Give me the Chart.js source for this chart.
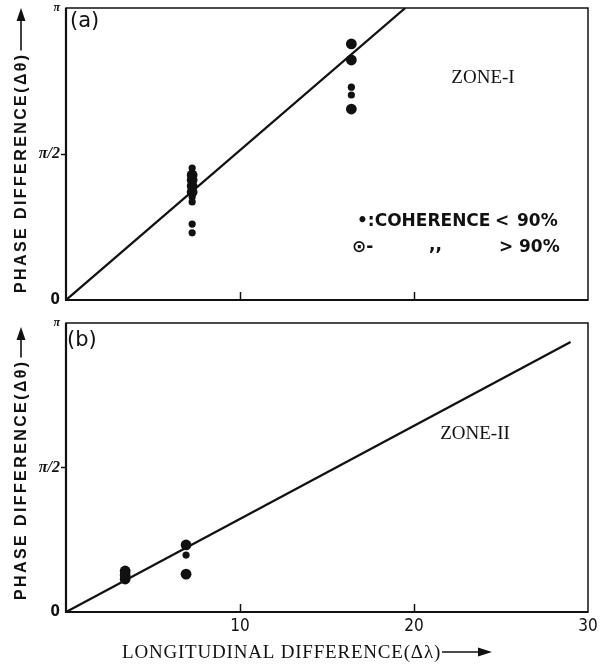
<!DOCTYPE html>
<html>
<head>
<meta charset="utf-8">
<script src="https://cdn.jsdelivr.net/npm/chart.js@4.4.1/dist/chart.umd.min.js"></script>
<style>
  html, body { margin: 0; padding: 0; background: #fff; }
  #wrap { position: relative; width: 601px; height: 667px; overflow: hidden; }
  canvas { position: absolute; left: 0; }
  #chartA { top: 0; }
  #chartB { top: 312px; }
</style>
</head>
<body>
<div id="wrap">
  <canvas id="chartA" width="601" height="312" style="width:601px;height:312px"></canvas>
  <canvas id="chartB" width="601" height="355" style="width:601px;height:355px"></canvas>
</div>
<script>
// x = longitudinal difference (deg), y = phase difference in units of pi
// Zone I
const zoneI_high_x = [7.25, 7.25, 7.25, 7.25, 16.4, 16.4, 16.4];
const zoneI_high_y = [0.428, 0.411, 0.390, 0.370, 0.877, 0.822, 0.654];
const zoneI_low_x = [7.25, 7.25, 7.25, 7.25, 7.25, 16.4, 16.4];
const zoneI_low_y = [0.452, 0.353, 0.336, 0.260, 0.230, 0.729, 0.702];
const zoneI_fit_x = [0, 19.5];
const zoneI_fit_y = [0, 1];

// Zone II
const zoneII_high_x = [3.4, 3.4, 3.4, 6.9, 6.9];
const zoneII_high_y = [0.142, 0.128, 0.114, 0.232, 0.131];
const zoneII_low_x = [6.9];
const zoneII_low_y = [0.197];
const zoneII_fit_x = [0, 29];
const zoneII_fit_y = [0, 0.934];

const xTickValues = [10, 20, 30];
const yTickLabels = ['0', 'π/2', 'π'];   // at 0, 0.5, 1 (units of pi)

const yTitle = 'PHASE DIFFERENCE(Δθ)';
const xTitle = 'LONGITUDINAL DIFFERENCE(Δλ)';

const INK = '#111';

function pts(xs, ys) {
    return xs.map((x, i) => ({ x: x, y: ys[i] }));
}

function drawFrame(chart) {
    const ctx = chart.ctx;
    const a = chart.chartArea;
    ctx.save();
    ctx.strokeStyle = INK;
    ctx.lineWidth = 1.5;
    ctx.strokeRect(a.left, a.top, a.right - a.left, a.bottom - a.top);
    ctx.lineWidth = 2.2;
    ctx.beginPath();
    ctx.moveTo(a.left, a.top);
    ctx.lineTo(a.left, a.bottom);
    ctx.lineTo(a.right, a.bottom);
    ctx.stroke();
    ctx.restore();
}

// rotated axis title with the long arrow after it
function drawYTitle(ctx, cx, yStart, yTip) {
    ctx.save();
    ctx.translate(cx, yStart);
    ctx.rotate(-Math.PI / 2);
    ctx.font = 'bold 16px "Liberation Sans", Arial, sans-serif';
    ctx.letterSpacing = '2.4px';
    ctx.textAlign = 'left';
    ctx.textBaseline = 'middle';
    ctx.fillStyle = INK;
    ctx.fillText(yTitle, 0, 1);
    const w = ctx.measureText(yTitle).width;
    const end = yStart - yTip;
    ctx.strokeStyle = INK;
    ctx.lineWidth = 1.6;
    ctx.beginPath();
    ctx.moveTo(w + 2, 0);
    ctx.lineTo(end - 10, 0);
    ctx.stroke();
    ctx.beginPath();
    ctx.moveTo(end, 0);
    ctx.lineTo(end - 13, -4.5);
    ctx.lineTo(end - 13, 4.5);
    ctx.closePath();
    ctx.fill();
    ctx.restore();
}

function drawText(ctx, str, x, y, font, align) {
    ctx.save();
    ctx.font = font;
    ctx.fillStyle = INK;
    ctx.textAlign = align || 'left';
    ctx.textBaseline = 'middle';
    ctx.fillText(str, x, y);
    ctx.restore();
}

const handFont = 'bold 17px "DejaVu Sans", sans-serif';
const serifFont = '19px "Liberation Serif", "DejaVu Serif", serif';

const panelA = {
    id: 'panelA',
    afterDraw(chart) {
        const ctx = chart.ctx;
        drawFrame(chart);
        drawYTitle(ctx, 21, 293, 8);
        drawText(ctx, '(a)', 70, 22, '21px "DejaVu Sans", sans-serif');
        drawText(ctx, 'ZONE-I', 483, 78, serifFont, 'center');
        // hand-written legend
        drawText(ctx, '•:COHERENCE', 357, 222, handFont);
        drawText(ctx, '<', 495, 222, handFont);
        drawText(ctx, '90%', 517, 222, handFont);
        drawText(ctx, '⊙-', 352, 248, handFont);
        drawText(ctx, ',,', 429, 246, handFont);
        drawText(ctx, '>', 499, 248, handFont);
        drawText(ctx, '90%', 519, 248, handFont);
    }
};

const panelB = {
    id: 'panelB',
    afterDraw(chart) {
        const ctx = chart.ctx;
        drawFrame(chart);
        drawYTitle(ctx, 21, 288, 15);
        drawText(ctx, '(b)', 67, 29, '21px "DejaVu Sans", sans-serif');
        drawText(ctx, 'ZONE-II', 475, 122, serifFont, 'center');

        ctx.save();
        ctx.font = '19px "Liberation Serif", "DejaVu Serif", serif';
        ctx.letterSpacing = '0.8px';
        ctx.fillStyle = INK;
        ctx.textBaseline = 'middle';
        ctx.fillText(xTitle, 122, 341);
        const w = ctx.measureText(xTitle).width;
        ctx.strokeStyle = INK;
        ctx.lineWidth = 1.6;
        ctx.beginPath();
        ctx.moveTo(122 + w + 1, 340);
        ctx.lineTo(480, 340);
        ctx.stroke();
        ctx.beginPath();
        ctx.moveTo(492, 340);
        ctx.lineTo(478, 335.5);
        ctx.lineTo(478, 344.5);
        ctx.closePath();
        ctx.fill();
        ctx.restore();
    }
};

function yTickFont(c) {
    const v = c.tick ? c.tick.value : 0;
    if (v === 1) return { family: '"Liberation Serif", serif', size: 12, style: 'italic', weight: 'bold' };
    if (v === 0.5) return { family: '"Liberation Serif", serif', size: 16, style: 'italic', weight: 'bold' };
    return { family: '"Liberation Sans Narrow", "DejaVu Sans Condensed", sans-serif', size: 15, weight: 'bold' };
}

function buildChart(canvasId, high, low, fit, showXLabels, pad, xHeight, plugin) {
    return new Chart(document.getElementById(canvasId), {
        type: 'scatter',
        data: {
            datasets: [
                {
                    data: fit,
                    showLine: true,
                    borderColor: INK,
                    borderWidth: 2.3,
                    pointRadius: 0
                },
                {
                    data: high,
                    backgroundColor: INK,
                    borderColor: INK,
                    pointRadius: 5.4,
                    borderWidth: 0
                },
                {
                    data: low,
                    backgroundColor: INK,
                    borderColor: INK,
                    pointRadius: 3.6,
                    borderWidth: 0
                }
            ]
        },
        options: {
            responsive: false,
            animation: false,
            events: [],
            layout: { padding: pad },
            plugins: {
                legend: { display: false },
                tooltip: { enabled: false }
            },
            scales: {
                x: {
                    type: 'linear',
                    min: 0,
                    max: 30,
                    afterBuildTicks: s => { s.ticks = [0].concat(xTickValues).map(v => ({ value: v })); },
                    ticks: {
                        display: showXLabels,
                        padding: 12,
                        color: INK,
                        font: { family: '"Liberation Sans Narrow", "DejaVu Sans Condensed", sans-serif', size: 17 },
                        callback: v => (v === 0 ? '' : String(v))
                    },
                    grid: {
                        drawOnChartArea: false,
                        drawTicks: true,
                        tickLength: -8,
                        tickWidth: 1.5,
                        tickColor: c => (c.tick && (c.tick.value === 10 || c.tick.value === 20)) ? INK : 'rgba(0,0,0,0)'
                    },
                    border: { display: false },
                    afterFit: s => { s.height = xHeight; s.paddingLeft = 0; s.paddingRight = 0; }
                },
                y: {
                    min: 0,
                    max: 1,
                    ticks: {
                        stepSize: 0.5,
                        padding: 1,
                        color: INK,
                        font: yTickFont,
                        callback: v => yTickLabels[Math.round(v * 2)]
                    },
                    grid: {
                        drawOnChartArea: false,
                        drawTicks: true,
                        tickLength: 5,
                        tickWidth: 1.5,
                        tickColor: c => (c.tick && c.tick.value === 0.5) ? INK : 'rgba(0,0,0,0)'
                    },
                    border: { display: false },
                    afterFit: s => { s.width = 66; s.paddingTop = 0; s.paddingBottom = 0; }
                }
            }
        },
        plugins: [plugin]
    });
}

buildChart('chartA',
    pts(zoneI_high_x, zoneI_high_y),
    pts(zoneI_low_x, zoneI_low_y),
    pts(zoneI_fit_x, zoneI_fit_y),
    false, { top: 8, right: 13, left: 0, bottom: 0 }, 12, panelA);

buildChart('chartB',
    pts(zoneII_high_x, zoneII_high_y),
    pts(zoneII_low_x, zoneII_low_y),
    pts(zoneII_fit_x, zoneII_fit_y),
    true, { top: 11, right: 13, left: 0, bottom: 0 }, 55, panelB);
</script>
</body>
</html>
